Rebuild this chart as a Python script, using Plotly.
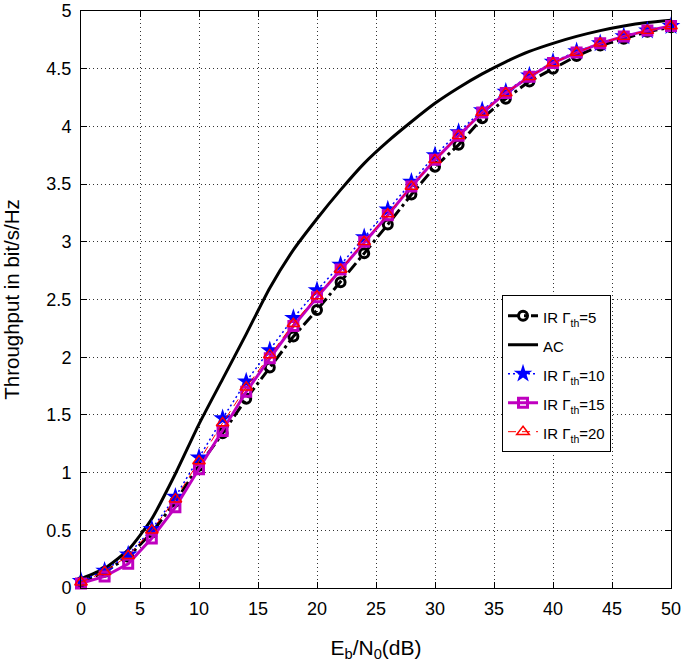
import plotly.graph_objects as go

snr_db = [0, 2, 4, 6, 8, 10, 12, 14, 16, 18, 20, 22, 24, 26, 28, 30, 32, 34, 36, 38, 40, 42, 44, 46, 48, 50]

ir5 = [0.05, 0.14, 0.27, 0.48, 0.75, 1.06, 1.34, 1.64, 1.91, 2.18, 2.41, 2.65, 2.90, 3.15, 3.41, 3.65, 3.84, 4.07, 4.24, 4.39, 4.50, 4.61, 4.70, 4.76, 4.82, 4.86]
ac = [0.08, 0.17, 0.33, 0.60, 0.99, 1.42, 1.81, 2.20, 2.60, 2.93, 3.20, 3.45, 3.68, 3.87, 4.04, 4.20, 4.335, 4.455, 4.56, 4.65, 4.72, 4.78, 4.83, 4.87, 4.90, 4.92]
ir10 = [0.06, 0.15, 0.29, 0.51, 0.79, 1.13, 1.47, 1.79, 2.06, 2.34, 2.58, 2.80, 3.04, 3.28, 3.52, 3.75, 3.95, 4.14, 4.30, 4.44, 4.56, 4.65, 4.72, 4.78, 4.83, 4.87]
ir15 = [0.04, 0.10, 0.21, 0.43, 0.70, 1.03, 1.36, 1.70, 1.99, 2.27, 2.52, 2.76, 3.00, 3.23, 3.48, 3.71, 3.92, 4.12, 4.29, 4.43, 4.55, 4.64, 4.72, 4.78, 4.83, 4.87]
ir20 = [0.05, 0.14, 0.28, 0.50, 0.77, 1.10, 1.43, 1.74, 2.02, 2.29, 2.53, 2.76, 3.00, 3.24, 3.48, 3.71, 3.92, 4.12, 4.29, 4.43, 4.55, 4.64, 4.72, 4.78, 4.83, 4.87]

names = ["IR Γ<sub>th</sub>=5", "AC", "IR Γ<sub>th</sub>=10", "IR Γ<sub>th</sub>=15", "IR Γ<sub>th</sub>=20"]
x_ticks = [0, 5, 10, 15, 20, 25, 30, 35, 40, 45, 50]
y_ticks = [0, 0.5, 1, 1.5, 2, 2.5, 3, 3.5, 4, 4.5, 5]
y_tick_text = ["0", "0.5", "1", "1.5", "2", "2.5", "3", "3.5", "4", "4.5", "5"]

FONT = "Liberation Sans, Arial, sans-serif"
MAG = "#BF00BF"


def leg(s):
    return '<span style="font-size:15px">' + s + '</span>'


fig = go.Figure()
fig.add_trace(go.Scatter(x=snr_db, y=ir5, name=leg(names[0]), mode="lines+markers",
                         line=dict(color="black", width=3, dash="12px,4px,3px,4px"),
                         marker=dict(symbol="circle-open", size=9, color="black", line=dict(width=3, color="black")),
                         cliponaxis=False))
fig.add_trace(go.Scatter(x=snr_db, y=ac, name=leg(names[1]), mode="lines",
                         line=dict(color="black", width=3, shape="spline", smoothing=0.6), cliponaxis=False))
fig.add_trace(go.Scatter(x=snr_db, y=ir10, name=leg(names[2]), mode="lines+markers",
                         line=dict(color="blue", width=1.5, dash="2px,3px"),
                         marker=dict(symbol="star", size=14, color="blue", line=dict(width=0)),
                         cliponaxis=False))
fig.add_trace(go.Scatter(x=snr_db, y=ir15, name=leg(names[3]), mode="lines+markers",
                         line=dict(color=MAG, width=3),
                         marker=dict(symbol="square-open", size=9, color=MAG, line=dict(width=3, color=MAG)),
                         cliponaxis=False))
fig.add_trace(go.Scatter(x=snr_db, y=ir20, name=leg(names[4]), mode="lines+markers",
                         line=dict(color="red", width=1, dash="8px,6px"),
                         marker=dict(symbol="triangle-up-open", size=11, color="red", line=dict(width=1.5, color="red")),
                         cliponaxis=False))

axis_common = dict(showline=True, linecolor="black", linewidth=1, mirror="ticks",
                   ticks="inside", ticklen=6, tickwidth=1, tickcolor="black",
                   showgrid=True, gridcolor="#333", gridwidth=1, griddash="1px,3px",
                   zeroline=False, tickfont=dict(family=FONT, size=18, color="black"))

fig.update_xaxes(range=[0, 50], tickvals=x_ticks, ticktext=[str(v) for v in x_ticks],
                 title=dict(text="E<sub>b</sub>/N<sub>0</sub>(dB)", font=dict(family=FONT, size=21, color="black"), standoff=22),
                 ticklabelstandoff=4,
                 **axis_common)
fig.update_yaxes(range=[0, 5], tickvals=y_ticks, ticktext=y_tick_text,
                 title=dict(text="Throughput in bit/s/Hz", font=dict(family=FONT, size=20.5, color="black"), standoff=24),
                 ticklabelstandoff=5,
                 **axis_common)

fig.update_layout(
    width=685, height=668,
    margin=dict(l=81, r=14, t=11, b=80, autoexpand=False),
    paper_bgcolor="white", plot_bgcolor="white",
    font=dict(family=FONT, color="black"),
    showlegend=True,
    legend=dict(x=0.7136, y=0.5075, xanchor="left", yanchor="top",
                bgcolor="white", bordercolor="black", borderwidth=1,
                font=dict(family=FONT, size=20, color="black"),
                tracegroupgap=0),
)

fig.write_html("out.html", config={"displayModeBar": False},
               post_script="document.body.style.margin='0';document.body.style.overflow='hidden';")
